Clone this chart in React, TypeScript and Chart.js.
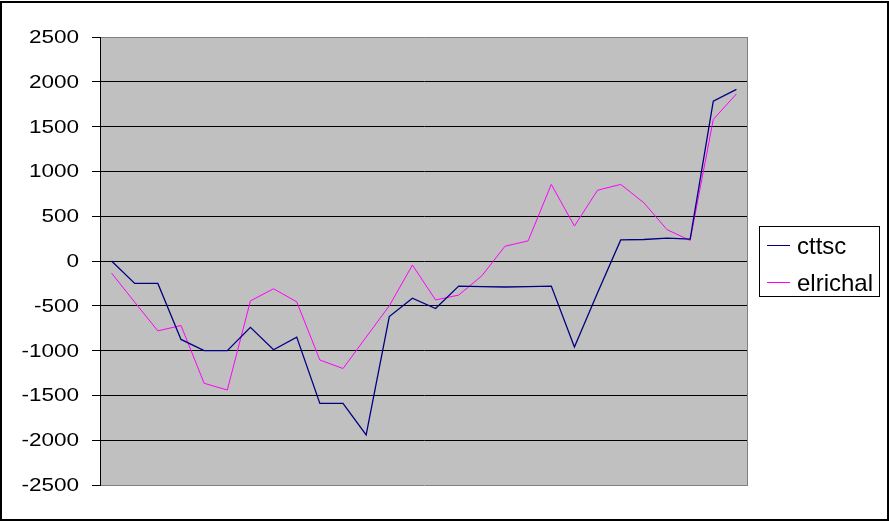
import React, { useEffect, useRef } from 'react';
import { Chart, registerables } from 'chart.js';

Chart.register(...registerables);

const categories = [
  '1', '2', '3', '4', '5', '6', '7', '8', '9', '10', '11', '12', '13', '14',
  '15', '16', '17', '18', '19', '20', '21', '22', '23', '24', '25', '26', '27', '28',
];

const cttsc = [
  0, -250, -250, -875, -1000, -1000, -740, -990, -850, -1590, -1590, -1940, -620, -415,
  -530, -280, -285, -290, -285, -280, -960, -355, 235, 240, 255, 245, 1785, 1915,
];

const elrichal = [
  -135, -460, -780, -720, -1365, -1440, -445, -310, -455, -1105, -1200, -850, -500, -45,
  -435, -380, -165, 165, 225, 855, 390, 790, 855, 650, 350, 230, 1580, 1865,
];

const seriesNames = ['cttsc', 'elrichal'];
const seriesColors = ['#000080', '#FF00FF'];

const yMin = -2500;
const yMax = 2500;
const yStep = 500;

const excelPlugin = {
  id: 'excelStyle',
  beforeDraw(chart: any) {
    const { ctx, chartArea: a } = chart;
    ctx.save();
    ctx.fillStyle = '#ffffff';
    ctx.fillRect(0, 0, chart.width, chart.height);
    ctx.fillStyle = '#C0C0C0';
    ctx.fillRect(a.left, a.top, a.right - a.left, a.bottom - a.top);
    ctx.restore();
  },
  beforeDatasetsDraw(chart: any) {
    const { ctx, chartArea: a } = chart;
    ctx.save();
    ctx.strokeStyle = '#808080';
    ctx.lineWidth = 1;
    ctx.beginPath();
    ctx.moveTo(Math.round(a.right) - 0.5, a.top);
    ctx.lineTo(Math.round(a.right) - 0.5, a.bottom);
    ctx.stroke();
    ctx.restore();
  },
  afterDraw(chart: any) {
    const { ctx } = chart;
    const ys = chart.scales.y;
    ctx.save();
    // y tick labels (stretched Arial-like)
    ctx.font = '18px "Liberation Sans", Arial, sans-serif';
    ctx.fillStyle = '#000';
    ctx.textAlign = 'right';
    ctx.textBaseline = 'middle';
    ys.ticks.forEach((t: any) => {
      const y = ys.getPixelForValue(t.value);
      ctx.save();
      ctx.translate(79, y + 1);
      ctx.scale(1.25, 1);
      ctx.fillText(String(t.value), 0, 0);
      ctx.restore();
    });

    // legend
    ctx.strokeStyle = '#000';
    ctx.lineWidth = 1;
    ctx.strokeRect(759.5, 226.5, 120, 70);
    ctx.font = '24px "Liberation Sans", Arial, sans-serif';
    ctx.textAlign = 'left';
    ctx.textBaseline = 'alphabetic';
    chart.data.datasets.forEach((ds: any, i: number) => {
      const yl = 245 + i * 37;
      ctx.strokeStyle = ds.borderColor;
      ctx.lineWidth = 1;
      ctx.beginPath();
      ctx.moveTo(767, yl + 0.5);
      ctx.lineTo(790, yl + 0.5);
      ctx.stroke();
      ctx.fillStyle = '#000';
      ctx.fillText(ds.label, 797, yl + 8.5);
    });

    // outer border
    ctx.strokeStyle = '#000';
    ctx.lineWidth = 2;
    ctx.strokeRect(1, 2, 887, 518);
    ctx.restore();
  },
};

export default function App() {
  const ref = useRef<HTMLCanvasElement | null>(null);

  useEffect(() => {
    if (!ref.current) return;
    const chart = new Chart(ref.current, {
      type: 'line',
      data: {
        labels: categories,
        datasets: [
          {
            label: seriesNames[0],
            data: cttsc,
            borderColor: seriesColors[0],
            backgroundColor: seriesColors[0],
            borderWidth: 1.3,
            pointRadius: 0,
            tension: 0,
            fill: false,
          },
          {
            label: seriesNames[1],
            data: elrichal,
            borderColor: seriesColors[1],
            backgroundColor: seriesColors[1],
            borderWidth: 1,
            pointRadius: 0,
            tension: 0,
            fill: false,
          },
        ],
      },
      options: {
        animation: false,
        responsive: false,
        devicePixelRatio: 1,
        layout: { padding: { left: 92, right: 141, top: 37, bottom: 36 } },
        plugins: {
          legend: { display: false },
          title: { display: false },
          tooltip: { enabled: false },
        },
        scales: {
          x: {
            type: 'category',
            display: false,
            offset: true,
          },
          y: {
            min: yMin,
            max: yMax,
            ticks: { stepSize: yStep, display: false },
            grid: {
              color: (c: any) =>
                c.tick && Math.abs(c.tick.value) === yMax ? '#808080' : '#000000',
              lineWidth: 1,
              drawTicks: true,
              tickLength: 8,
              tickColor: '#000000',
            },
            border: { display: true, color: '#000000', width: 1 },
            afterFit: (scale: any) => {
              scale.width = 8;
            },
          },
        },
      },
      plugins: [excelPlugin],
    });
    return () => chart.destroy();
  }, []);

  return (
    <div style={{ position: 'absolute', left: 0, top: 0, width: 889, height: 521 }}>
      <canvas ref={ref} width={889} height={521} style={{ display: 'block', width: 889, height: 521 }} />
    </div>
  );
}
